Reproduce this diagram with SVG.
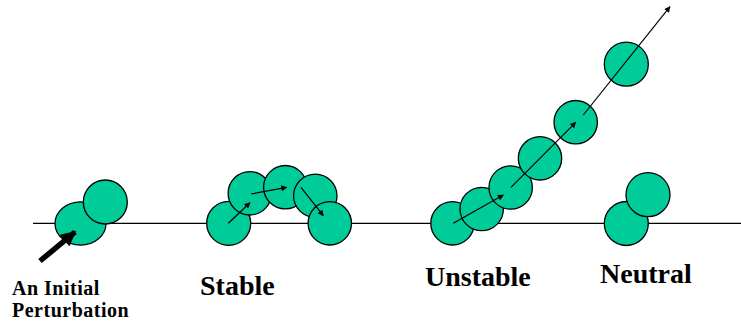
<svg xmlns="http://www.w3.org/2000/svg" width="741" height="325" viewBox="0 0 741 325">
  <defs>
    <marker id="tip" viewBox="0 0 10 10" refX="9" refY="5" markerWidth="7" markerHeight="6" markerUnits="userSpaceOnUse" orient="auto">
      <path d="M0,0 L10,5 L0,10 z" fill="#000"/>
    </marker>
    <marker id="bigtip" viewBox="0 0 10 10" refX="9" refY="5" markerWidth="16" markerHeight="15" markerUnits="userSpaceOnUse" orient="auto">
      <path d="M0,0 L10,5 L0,10 z" fill="#000"/>
    </marker>
  </defs>
  <style>
    .ball { fill: #00CC99; stroke: #000; stroke-width: 1.3; }
    .ground { stroke: #000; stroke-width: 1.2; fill: none; }
    .move { stroke: #000; stroke-width: 1.2; fill: none; marker-end: url(#tip); }
    .push { stroke: #000; stroke-width: 5.5; fill: none; marker-end: url(#bigtip); }
    .lbl { font-family: "Liberation Serif", "Times New Roman", serif; font-weight: bold; fill: #000; }
    .big { font-size: 28px; }
    .small { font-size: 20px; letter-spacing: 0.5px; }
  </style>

  <!-- ground surface -->
  <line class="ground" x1="33" y1="223.3" x2="741" y2="223.3"/>

  <!-- initial perturbation -->
  <g id="perturbation">
    <ellipse class="ball" cx="80.5" cy="223.5" rx="25.5" ry="21.7"/>
    <circle class="ball" cx="105.3" cy="202" r="22"/>
    <text class="lbl small" x="12" y="294.5">An Initial</text>
    <text class="lbl small" x="12" y="317">Perturbation</text>
  </g>

  <!-- stable case -->
  <g id="stable">
    <circle class="ball" cx="228.7" cy="223.3" r="22"/>
    <circle class="ball" cx="249.8" cy="193.3" r="21.7"/>
    <circle class="ball" cx="285.3" cy="187.2" r="21.7"/>
    <circle class="ball" cx="315.3" cy="195.8" r="21.7"/>
    <circle class="ball" cx="329.8" cy="223.3" r="21.7"/>
    <text class="lbl big" x="200" y="295">Stable</text>
  </g>

  <!-- unstable case -->
  <g id="unstable">
    <circle class="ball" cx="452.5" cy="223.3" r="21.7"/>
    <circle class="ball" cx="481.7" cy="209" r="21.7"/>
    <circle class="ball" cx="510.7" cy="187.5" r="21.7"/>
    <circle class="ball" cx="540" cy="158.3" r="21.7"/>
    <circle class="ball" cx="575.7" cy="122.2" r="21.7"/>
    <circle class="ball" cx="626.3" cy="64.2" r="22"/>
    <text class="lbl big" x="425" y="286">Unstable</text>
  </g>

  <!-- neutral case -->
  <g id="neutral">
    <circle class="ball" cx="626.3" cy="223.5" r="22"/>
    <circle class="ball" cx="648" cy="194.7" r="22"/>
    <text class="lbl big" x="600" y="283.3">Neutral</text>
  </g>

  <!-- motion arrows -->
  <g id="connectors">
    <line class="push" x1="40" y1="261" x2="75" y2="232"/>
    <line class="move" x1="228.3" y1="223.3" x2="250" y2="202.7"/>
    <line class="move" x1="251" y1="194" x2="286.7" y2="187.3"/>
    <line class="move" x1="301" y1="187.3" x2="323.3" y2="215.7"/>
    <line class="move" x1="453.3" y1="223.3" x2="503.3" y2="195"/>
    <line class="move" x1="511" y1="187.3" x2="575.7" y2="122.3"/>
    <line class="move" x1="583.3" y1="115" x2="670" y2="6.7"/>
  </g>
</svg>
